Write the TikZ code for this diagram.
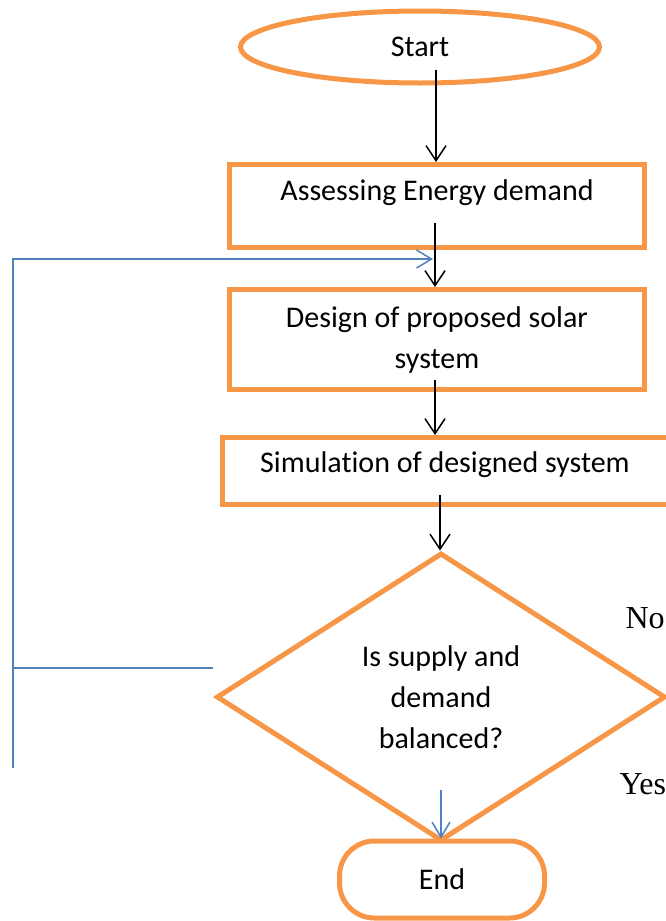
\documentclass[tikz,border=0pt]{standalone}
\usepackage{fontspec}
\setmainfont{Carlito}[Ligatures=NoCommon]
\newfontfamily\timesfont{Liberation Serif}
\usetikzlibrary{shapes.geometric,arrows.meta}
\definecolor{boxorange}{RGB}{247,150,70}
\definecolor{loopblue}{RGB}{79,129,189}

\begin{document}
\begin{tikzpicture}[x=1pt, y=-1pt,
    every node/.style={font=\fontsize{30}{41}\selectfont, text=black},
    shapeline/.style={draw=boxorange, line width=5pt, inner sep=0pt},
    procbox/.style={shapeline, rectangle, align=center},
    anslbl/.style={font=\timesfont\fontsize{32}{38}\selectfont, anchor=west},
    arr/.style={line width=1.5pt, -{Straight Barb[length=15pt,width=20pt]}},
    fb/.style={draw=loopblue, line width=1.5pt},
    fbarr/.style={fb, -{Straight Barb[length=15pt,width=18pt]}}]
    \useasboundingbox (0,0) rectangle (665,921);

    % Inicio
    \node[shapeline, ellipse, minimum width=359pt, minimum height=72pt] (start) at (420,47) {Start};

    % Pasos
    \node[procbox, minimum width=415pt, minimum height=83pt, text height=21pt, text depth=33pt] (assess) at (437,206) {Assessing Energy demand};
    \node[procbox, minimum width=415pt, minimum height=100pt] (design) at (437,339.5) {Design of proposed solar\\system};
    \node[procbox, minimum width=446pt, minimum height=67pt, text height=21pt, text depth=18pt] (simul) at (445,471) {Simulation of designed system};

    % Decision
    \node[shapeline, diamond, minimum width=449pt, minimum height=288pt, align=center] (decide) at (441,697) {Is supply and\\demand\\balanced?};
    \node[anslbl] (nolbl) at (622,618) {No};
    \node[anslbl] (yeslbl) at (616,784) {Yes};

    % Fin
    \node[shapeline, rectangle, rounded corners=35pt, minimum width=205pt, minimum height=77pt] (end) at (442,879.5) {End};

    % Flechas
    \coordinate (startfoot) at (436,70);
    \coordinate (assessfoot) at (435,223);
    \coordinate (designfoot) at (435,380);
    \coordinate (simulfoot) at (440,495);
    \coordinate (yesfoot) at (441,790);
    \draw[arr] (startfoot) -- (startfoot |- assess.north);
    \draw[arr] (assessfoot) -- (assessfoot |- design.north);
    \draw[arr] (designfoot) -- (designfoot |- simul.north);
    \draw[arr] (simulfoot) -- (simulfoot |- decide.north);
    \draw[fbarr] (yesfoot) -- (yesfoot |- end.north);

    % Lazo de retorno
    \coordinate (loopbot) at (13,768);
    \coordinate (looptop) at (13,259);
    \coordinate (loophit) at (433,259);
    \coordinate (loopend) at (213,668);
    \draw[fbarr] (loopbot) -- (looptop) -- (loophit);
    \draw[fb] (loopend) -- (loopend -| looptop);
\end{tikzpicture}
\end{document}
